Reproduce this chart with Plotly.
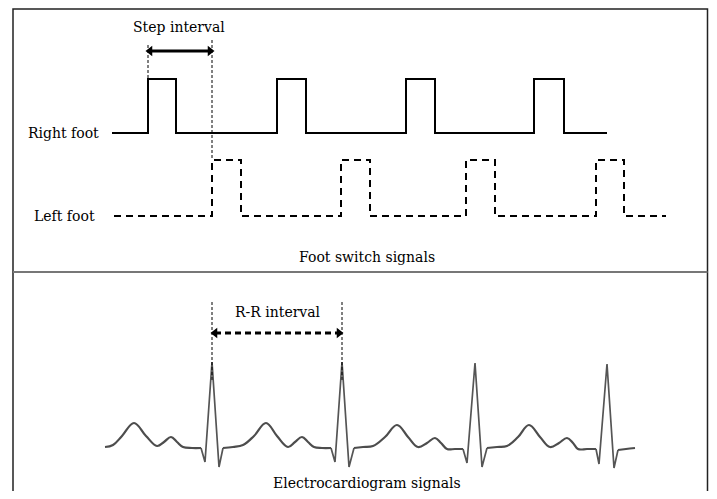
import plotly.graph_objects as go

# ---- Foot switch signals (x: time position, y: signal level position) ----
right_x = [112, 148, 176, 277, 306, 406, 435, 534, 564, 607]
right_y = [133, 79, 133, 79, 133, 79, 133, 79, 133, 133]
left_x = [114, 212, 241, 341, 370, 466, 495, 596, 624, 666]
left_y = [216, 160, 216, 160, 216, 160, 216, 160, 216, 216]

# ---- ECG: smooth (P/T wave) segments, separated by None ----
ecg_smooth_x = [105, 113, 122, 134, 146, 157, 164, 171, 177, 183, 192, 201, None,
                223, 233, 243, 254, 266, 277, 288, 295, 302, 308, 314, 322, 331, None,
                354, 363, 373, 385, 397, 408, 418, 427, 435, 441, 447, 455, 463, None,
                487, 497, 507, 518, 529, 540, 550, 559, 567, 573, 578, 587, 596, None,
                618, 626, 635]
ecg_smooth_y = [447, 445, 436, 423, 436, 446, 442, 437, 442, 447, 448, 448, None,
                448, 447, 445, 436, 423, 436, 447, 442, 437, 442, 447, 448, 448, None,
                448, 447, 446, 437, 425, 437, 447, 443, 438, 443, 449, 449, 449, None,
                448, 447, 446, 437, 425, 437, 447, 443, 438, 443, 449, 449, 449, None,
                450, 449, 448]
# ---- ECG: QRS complexes ----
ecg_qrs_x = [201, 205, 212, 219, 223, None,
             331, 335, 342, 349, 354, None,
             463, 467, 475, 482, 487, None,
             596, 599, 607, 614, 618]
ecg_qrs_y = [448, 462, 362, 467, 448, None,
             448, 462, 362, 467, 448, None,
             449, 463, 363, 467, 448, None,
             449, 464, 364, 468, 450]

# ---- interval markers ----
step_guides_x = [148, 148, None, 212, 212]
step_guides_y = [45, 79, None, 40, 160]
step_arrow_x = [150, 210]
step_arrow_y = [51, 51]
rr_guides_x = [212, 212, None, 342, 342]
rr_guides_y = [302, 382, None, 302, 382]
rr_arrow_x = [215, 339]
rr_arrow_y = [333, 333]

labels = [
    ("Step interval", 179, 27, "center"),
    ("Right foot", 101, 133, "right"),
    ("Left foot", 97, 216, "right"),
    ("Foot switch signals", 367, 257, "center"),
    ("R-R interval", 278, 312, "center"),
    ("Electrocardiogram signals", 367, 483, "center"),
]

FONT = "DejaVu Serif"
OFF = 8            # page body margin in the browser
W, H = 717 - 2 * OFF, 499 - 2 * OFF
fig = go.Figure()

fig.add_trace(go.Scatter(x=right_x, y=right_y, mode="lines", line_shape="hv",
                         line=dict(color="black", width=2)))
fig.add_trace(go.Scatter(x=left_x, y=left_y, mode="lines", line_shape="hv",
                         line=dict(color="black", width=2, dash="7px,5px")))

fig.add_trace(go.Scatter(x=ecg_smooth_x, y=ecg_smooth_y, mode="lines",
                         line=dict(color="#4d4d4d", width=2.2, shape="spline", smoothing=1.1),
                         connectgaps=False))
fig.add_trace(go.Scatter(x=ecg_qrs_x, y=ecg_qrs_y, mode="lines",
                         line=dict(color="#555555", width=1.7), connectgaps=False))

# guide lines
fig.add_trace(go.Scatter(x=step_guides_x, y=step_guides_y, mode="lines",
                         line=dict(color="black", width=1, dash="3px,2px")))
fig.add_trace(go.Scatter(x=rr_guides_x, y=rr_guides_y, mode="lines",
                         line=dict(color="black", width=1, dash="3px,2px")))

# arrows
fig.add_trace(go.Scatter(x=step_arrow_x, y=step_arrow_y, mode="lines+markers",
                         line=dict(color="black", width=3),
                         marker=dict(symbol=["triangle-left", "triangle-right"], size=9,
                                     color="black")))
fig.add_trace(go.Scatter(x=rr_arrow_x, y=rr_arrow_y, mode="lines+markers",
                         line=dict(color="black", width=3, dash="6px,4px"),
                         marker=dict(symbol=["triangle-left", "triangle-right"], size=9,
                                     color="black")))

for text, x, y, align in labels:
    fig.add_annotation(x=x, y=y, text=text, showarrow=False,
                       xanchor=align, yanchor="middle",
                       font=dict(family=FONT, size=14, color="black"))

# frame and divider
fig.add_shape(type="rect", x0=13, x1=707.5, y0=9, y1=530, xref="x", yref="y",
              line=dict(color="#222222", width=1.5), layer="below")
fig.add_shape(type="line", x0=13, x1=707.5, y0=272, y1=272, xref="x", yref="y",
              line=dict(color="#777777", width=2))

fig.update_layout(
    width=W, height=H,
    margin=dict(l=0, r=0, t=0, b=0),
    showlegend=False,
    plot_bgcolor="white", paper_bgcolor="white",
    xaxis=dict(range=[OFF, OFF + W], visible=False, fixedrange=True),
    yaxis=dict(range=[OFF + H, OFF], visible=False, fixedrange=True),
)
fig.write_html("out.html")
